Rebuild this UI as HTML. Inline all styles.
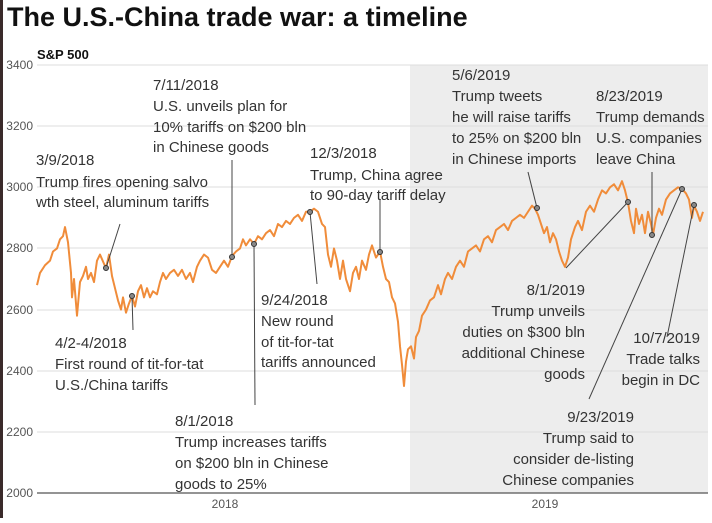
<!DOCTYPE html><html><head><style>
body{margin:0;width:712px;height:518px;background:#fff;overflow:hidden;font-family:"Liberation Sans",Arial,sans-serif}
</style></head><body>
<svg width="712" height="518" xmlns="http://www.w3.org/2000/svg" font-family="Liberation Sans, Arial, sans-serif">
<rect x="0" y="0" width="3" height="518" fill="#3a2a2a"/>
<rect x="410" y="65" width="298" height="428" fill="#ededed"/>
<g stroke="#ddd" stroke-width="1">
<line x1="37" x2="708" y1="65" y2="65"/><line x1="37" x2="708" y1="126" y2="126"/><line x1="37" x2="708" y1="187" y2="187"/><line x1="37" x2="708" y1="248" y2="248"/><line x1="37" x2="708" y1="310" y2="310"/><line x1="37" x2="708" y1="371" y2="371"/><line x1="37" x2="708" y1="432" y2="432"/>
</g>
<line x1="37" x2="708" y1="493" y2="493" stroke="#555" stroke-width="1.2"/>
<g font-size="12" fill="#555" text-anchor="end">
<text x="33" y="69">3400</text><text x="33" y="130">3200</text><text x="33" y="191">3000</text><text x="33" y="252">2800</text><text x="33" y="314">2600</text><text x="33" y="375">2400</text><text x="33" y="436">2200</text><text x="33" y="497">2000</text>
</g>
<g font-size="12" fill="#555" text-anchor="middle"><text x="225" y="508">2018</text><text x="545" y="508">2019</text></g>
<text x="7" y="26" font-size="27" font-weight="bold" fill="#111">The U.S.-China trade war: a timeline</text>
<text x="37" y="59" font-size="13" font-weight="bold" fill="#111">S&amp;P 500</text>
<g transform="matrix(1 0 0 -0.3057 0 1104.4)">
<polyline fill="none" stroke="#f08c3a" stroke-width="2" vector-effect="non-scaling-stroke" stroke-linejoin="round" points="37,2680 40,2720 45,2745 50,2760 53,2790 57,2800 60,2830 63,2840 65,2870 68,2820 71,2720 72,2640 74,2700 77,2580 80,2690 83,2710 86,2740 88,2700 91,2720 94,2690 97,2760 100,2780 104,2750 106,2735 109,2780 112,2710 115,2670 118,2630 121,2600 123,2640 126,2590 129,2620 132,2645 135,2610 138,2660 141,2680 144,2640 147,2670 150,2640 153,2660 157,2650 160,2690 163,2720 166,2700 170,2720 174,2730 178,2710 182,2730 186,2700 190,2720 193,2690 197,2740 200,2760 204,2780 208,2770 212,2730 216,2720 220,2740 224,2760 228,2740 232,2775 236,2790 240,2800 243,2830 246,2810 250,2830 254,2815 258,2840 262,2830 266,2850 270,2860 274,2840 278,2880 282,2870 286,2890 290,2880 294,2900 298,2910 302,2890 306,2920 310,2920 314,2930 318,2920 322,2880 325,2870 328,2780 331,2740 334,2800 337,2760 340,2700 343,2760 346,2700 350,2660 353,2720 356,2740 359,2700 362,2760 366,2730 369,2780 372,2810 376,2770 380,2790 383,2740 386,2700 389,2690 392,2640 395,2620 398,2560 400,2480 402,2420 404,2350 406,2430 408,2470 411,2480 414,2440 416,2510 419,2530 422,2580 426,2600 430,2630 434,2640 438,2680 441,2650 445,2700 448,2720 452,2700 456,2740 460,2760 464,2740 468,2790 472,2800 476,2810 480,2790 484,2830 488,2840 492,2820 496,2860 500,2870 504,2880 508,2860 512,2890 516,2900 520,2910 524,2900 528,2920 532,2940 535,2930 538,2910 541,2880 544,2850 547,2870 550,2820 553,2850 556,2830 559,2790 562,2760 565,2740 568,2770 571,2830 575,2870 578,2890 582,2860 586,2920 590,2940 594,2920 598,2960 602,2990 606,2980 610,3000 614,3010 618,2990 622,3020 625,2990 628,2950 631,2890 634,2850 636,2930 639,2880 642,2910 645,2850 648,2920 651,2880 653,2845 656,2900 659,2930 662,2910 666,2960 670,2980 674,2990 678,3000 682,2995 686,2980 689,2960 692,2900 694,2940 697,2920 700,2890 703,2920"/>
</g>
<g stroke="#444" stroke-width="1" fill="none">
<line x1="106" y1="268" x2="120" y2="224"/>
<line x1="132" y1="296" x2="133" y2="330"/>
<line x1="232" y1="257" x2="232" y2="160"/>
<line x1="254" y1="244" x2="255" y2="405"/>
<line x1="310" y1="212" x2="317" y2="284"/>
<line x1="380" y1="252" x2="380" y2="200"/>
<line x1="537" y1="208" x2="528" y2="172"/>
<line x1="628" y1="202" x2="566" y2="268"/>
<line x1="652" y1="235" x2="652" y2="172"/>
<line x1="682" y1="189" x2="589" y2="399"/>
<line x1="694" y1="205" x2="667" y2="337"/>
</g>
<g fill="#888" stroke="#333" stroke-width="1">
<circle cx="106" cy="268" r="2.5"/><circle cx="132" cy="296" r="2.5"/><circle cx="232" cy="257" r="2.5"/><circle cx="254" cy="244" r="2.5"/><circle cx="310" cy="212" r="2.5"/><circle cx="380" cy="252" r="2.5"/><circle cx="537" cy="208" r="2.5"/><circle cx="628" cy="202" r="2.5"/><circle cx="652" cy="235" r="2.5"/><circle cx="682" cy="189" r="2.5"/><circle cx="694" cy="205" r="2.5"/>
</g>
<g font-size="15" fill="#333">
<text x="36" y="165">3/9/2018</text><text x="36" y="187">Trump fires opening salvo</text><text x="36" y="207">wth steel, aluminum tariffs</text>
<text x="153" y="90">7/11/2018</text><text x="153" y="111">U.S. unveils plan for</text><text x="153" y="132">10% tariffs on $200 bln</text><text x="153" y="152">in Chinese goods</text>
<text x="310" y="158">12/3/2018</text><text x="310" y="180">Trump, China agree</text><text x="310" y="200">to 90-day tariff delay</text>
<text x="55" y="348">4/2-4/2018</text><text x="55" y="369">First round of tit-for-tat</text><text x="55" y="390">U.S./China tariffs</text>
<text x="261" y="305">9/24/2018</text><text x="261" y="326">New round</text><text x="261" y="347">of tit-for-tat</text><text x="261" y="367">tariffs announced</text>
<text x="175" y="426">8/1/2018</text><text x="175" y="447">Trump increases tariffs</text><text x="175" y="468">on $200 bln in Chinese</text><text x="175" y="489">goods to 25%</text>
<text x="452" y="80">5/6/2019</text><text x="452" y="101">Trump tweets</text><text x="452" y="122">he will raise tariffs</text><text x="452" y="143">to 25% on $200 bln</text><text x="452" y="164">in Chinese imports</text>
<text x="596" y="101">8/23/2019</text><text x="596" y="122">Trump demands</text><text x="596" y="143">U.S. companies</text><text x="596" y="164">leave China</text>
</g>
<g font-size="15" fill="#333" text-anchor="end">
<text x="585" y="295">8/1/2019</text><text x="585" y="316">Trump unveils</text><text x="585" y="337">duties on $300 bln</text><text x="585" y="358">additional Chinese</text><text x="585" y="379">goods</text>
<text x="700" y="343">10/7/2019</text><text x="700" y="364">Trade talks</text><text x="700" y="385">begin in DC</text>
<text x="634" y="422">9/23/2019</text><text x="634" y="443">Trump said to</text><text x="634" y="464">consider de-listing</text><text x="634" y="485">Chinese companies</text>
</g>
</svg>
</body></html>
